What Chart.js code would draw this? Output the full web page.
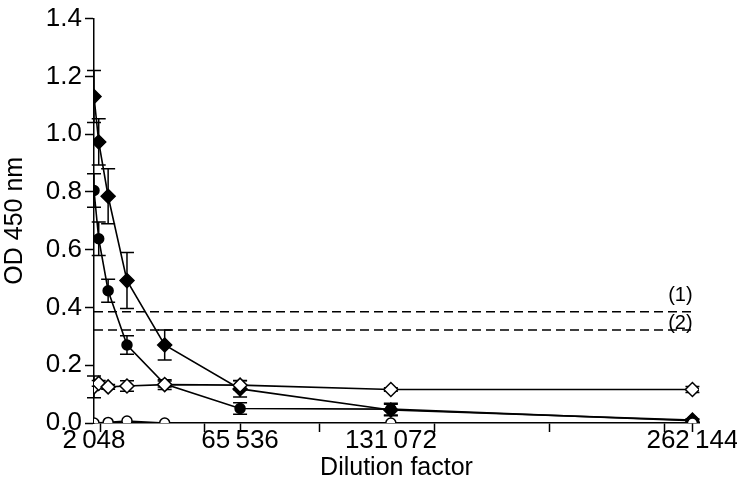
<!DOCTYPE html>
<html>
<head>
<meta charset="utf-8">
<script src="https://cdn.jsdelivr.net/npm/chart.js@4.4.1/dist/chart.umd.min.js"></script>
<style>
  html, body { margin: 0; padding: 0; background: #fff; }
  #wrap { width: 737px; height: 501px; position: relative; }
</style>
</head>
<body>
<div id="wrap"><canvas id="c" width="737" height="501"></canvas></div>
<script>
// ---- data ----
const dilutions = [2048, 4096, 8192, 16384, 32768, 65536, 131072, 262144];

const filledDiamond    = [1.13, 0.973, 0.785, 0.493, 0.270, 0.118, 0.045, 0.010];
const filledDiamondErr = [0.090, 0.080, 0.095, 0.097, 0.052, 0.028, 0.020, 0.004];

const filledCircle     = [0.805, 0.638, 0.458, 0.270, 0.135, 0.050, 0.048, 0.008];
const filledCircleErr  = [0.058, 0.058, 0.040, 0.032, 0.010, 0.020, 0.020, 0.004];

const openDiamond      = [0.125, 0.137, 0.125, 0.128, 0.133, 0.131, 0.116, 0.116];
const openDiamondErr   = [0.038, 0.010, 0.008, 0.018, 0.017, 0.016, 0.006, 0.010];

const openCircleX      = [2048, 8192, 16384, 32768, 131072, 262144];
const openCircle       = [0.000, 0.002, 0.007, 0.000, 0.000, 0.000];

const thresholdValues  = [0.385, 0.322];
const thresholdLabels  = ['(1)', '(2)'];

const xTickLabels      = [2048, 65536, 131072, 262144];
const xTickNoMark      = [2048, 131072];
const xMinorTicks      = [5000, 50000, 100000, 150000, 200000, 250000];
const yTicks           = [0, 0.2, 0.4, 0.6, 0.8, 1.0, 1.2, 1.4];

// ---- helpers ----
const pts = (xs, ys) => xs.map((x, i) => ({x: x, y: ys[i]}));
const fmtNum = v => String(v).replace(/\B(?=(\d{3})+(?!\d))/g, '\u2009');
const FONT = "'Liberation Sans', Arial, sans-serif";

const errorBarPlugin = {
  id: 'errorBars',
  beforeDatasetsDraw(chart) {
    const ctx = chart.ctx;
    const xs = chart.scales.x, ys = chart.scales.y;
    ctx.save();
    ctx.strokeStyle = '#000';
    ctx.lineWidth = 1.5;
    chart.data.datasets.forEach(ds => {
      if (!ds.errors) return;
      ds.data.forEach((p, i) => {
        const e = ds.errors[i];
        if (!e) return;
        const px = xs.getPixelForValue(p.x);
        const yt = ys.getPixelForValue(p.y + e);
        const yb = ys.getPixelForValue(Math.max(0, p.y - e));
        const cap = 7;
        ctx.beginPath();
        ctx.moveTo(px, yt); ctx.lineTo(px, yb);
        ctx.moveTo(px - cap, yt); ctx.lineTo(px + cap, yt);
        ctx.moveTo(px - cap, yb); ctx.lineTo(px + cap, yb);
        ctx.stroke();
      });
    });
    ctx.restore();
  }
};

const thresholdLabelPlugin = {
  id: 'thresholdLabels',
  afterDatasetsDraw(chart) {
    const ctx = chart.ctx;
    const xs = chart.scales.x, ys = chart.scales.y;
    ctx.save();
    ctx.fillStyle = '#000';
    ctx.font = "20px " + FONT;
    ctx.textAlign = 'center';
    ctx.textBaseline = 'middle';
    const px = xs.getPixelForValue(dilutions[dilutions.length - 1]) - 12;
    const offs = [-16, -7];
    thresholdValues.forEach((v, i) => {
      ctx.fillText(thresholdLabels[i], px, ys.getPixelForValue(v) + offs[i]);
    });
    ctx.restore();
  }
};

const lineStyle = {
  borderColor: '#000',
  borderWidth: 1.6,
  tension: 0,
  fill: false,
  pointBorderColor: '#000',
  pointBorderWidth: 1.5
};

const datasets = [
  Object.assign({}, lineStyle, {
    label: 'open diamond',
    data: pts(dilutions, openDiamond), errors: openDiamondErr,
    pointStyle: 'rectRot', pointRadius: 7, pointBackgroundColor: '#fff'
  }),
  Object.assign({}, lineStyle, {
    label: 'open circle',
    data: pts(openCircleX, openCircle),
    pointStyle: 'circle', pointRadius: 5, pointBackgroundColor: '#fff'
  }),
  Object.assign({}, lineStyle, {
    label: 'filled diamond',
    data: pts(dilutions, filledDiamond), errors: filledDiamondErr,
    pointStyle: 'rectRot', pointRadius: 7, pointBackgroundColor: '#000'
  }),
  Object.assign({}, lineStyle, {
    label: 'filled circle',
    data: pts(dilutions, filledCircle), errors: filledCircleErr,
    pointStyle: 'circle', pointRadius: 5, pointBackgroundColor: '#000'
  })
];

thresholdValues.forEach((v, i) => {
  datasets.push({
    label: 'threshold ' + thresholdLabels[i],
    data: [{x: dilutions[0], y: v}, {x: dilutions[dilutions.length - 1], y: v}],
    borderColor: '#000', borderWidth: 1.5, borderDash: [9, 5],
    pointRadius: 0, fill: false, tension: 0
  });
});

new Chart(document.getElementById('c'), {
  type: 'line',
  data: { datasets: datasets },
  options: {
    responsive: false,
    animation: false,
    devicePixelRatio: 1,
    layout: { padding: { top: 13, right: 38, left: 0, bottom: 0 } },
    plugins: {
      legend: { display: false },
      tooltip: { enabled: false },
      title: { display: false }
    },
    scales: {
      x: {
        type: 'linear',
        min: 2048,
        max: 265000,
        afterFit(scale) { scale.height = 78; },
        afterBuildTicks(scale) {
          scale.ticks = xTickLabels.concat(xMinorTicks).sort((a, b) => a - b).map(v => ({value: v}));
        },
        ticks: {
          autoSkip: false,
          maxRotation: 0,
          padding: -7,
          color: '#000',
          font: { family: FONT, size: 26 },
          callback: v => xTickLabels.includes(v) ? fmtNum(v) : ''
        },
        grid: {
          drawOnChartArea: false, drawTicks: true, tickLength: 9,
          tickColor: ctx => (ctx.tick && xTickNoMark.includes(ctx.tick.value)) ? 'rgba(0,0,0,0)' : '#000',
          tickWidth: 1.5
        },
        border: { color: '#000', width: 1.5 },
        title: {
          display: true, text: 'Dilution factor', color: '#000',
          font: { family: FONT, size: 25 }, padding: { top: 0, bottom: 18 }
        }
      },
      y: {
        min: 0,
        max: 1.4,
        afterFit(scale) { scale.width = 94; },
        afterBuildTicks(scale) { scale.ticks = yTicks.map(v => ({value: v})); },
        ticks: {
          padding: 3,
          color: '#000',
          font: { family: FONT, size: 26 },
          callback: v => v.toFixed(1)
        },
        grid: {
          drawOnChartArea: false, drawTicks: true, tickLength: 9,
          tickColor: '#000', tickWidth: 1.5
        },
        border: { color: '#000', width: 1.5 },
        title: {
          display: true, text: 'OD 450 nm', color: '#000',
          font: { family: FONT, size: 25 }, padding: { top: 0, bottom: 0 }
        }
      }
    }
  },
  plugins: [errorBarPlugin, thresholdLabelPlugin]
});
</script>
</body>
</html>
